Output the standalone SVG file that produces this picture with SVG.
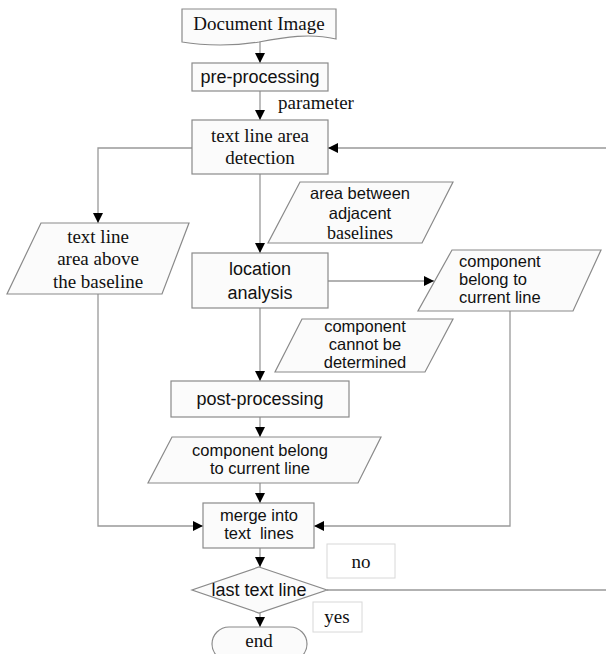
<svg xmlns="http://www.w3.org/2000/svg" width="606" height="654" viewBox="0 0 606 654">
<style>
.shape{fill:#fbfbfb;stroke:#8a8a8a;stroke-width:1.2}
.lbl{fill:#fff;stroke:#d8d8d8;stroke-width:1}
.conn{fill:none;stroke:#999;stroke-width:1.3}
.serif{font-family:"Liberation Serif","Times New Roman",serif;font-size:19px;fill:#111;text-anchor:middle}
.sans{font-family:"Liberation Sans",Arial,sans-serif;font-size:18px;fill:#111;text-anchor:middle}
.tight{font-size:16.5px}
.left{text-anchor:start}
</style>
<defs>
<marker id="ah" viewBox="0 0 10 10" refX="10" refY="5" markerWidth="10" markerHeight="10" markerUnits="userSpaceOnUse" orient="auto">
<path d="M0,0 L10,5 L0,10 Z" fill="#000"/>
</marker>
</defs>
<rect width="606" height="654" fill="#fff"/>
<g id="connectors">
<path class="conn" d="M260,42 V63" marker-end="url(#ah)"/>
<path class="conn" d="M260,91 V120" marker-end="url(#ah)"/>
<path class="conn" d="M606,148 H328" marker-end="url(#ah)"/>
<path class="conn" d="M192,148 H98 V223" marker-end="url(#ah)"/>
<path class="conn" d="M260,174 V253" marker-end="url(#ah)"/>
<path class="conn" d="M328,281 H434" marker-end="url(#ah)"/>
<path class="conn" d="M260,308 V381" marker-end="url(#ah)"/>
<path class="conn" d="M260,417 V437" marker-end="url(#ah)"/>
<path class="conn" d="M260,483 V503" marker-end="url(#ah)"/>
<path class="conn" d="M98,294 V526 H203" marker-end="url(#ah)"/>
<path class="conn" d="M510,311 V526 H314" marker-end="url(#ah)"/>
<path class="conn" d="M260,548 V567" marker-end="url(#ah)"/>
<path class="conn" d="M260,613 V627" marker-end="url(#ah)"/>
<path class="conn" d="M327,590 H606"/>
</g>
<g id="document-image">
<path class="shape" d="M182,9 H336 V39 C310,33 285,37 259,42 C235,46 205,46 182,42 Z"/>
<text class="serif" x="259" y="30">Document Image</text>
</g>
<g id="pre-processing">
<rect class="shape" x="192" y="63" width="136" height="28"/>
<text class="sans" x="260" y="83">pre-processing</text>
</g>
<g id="parameter">
<text class="serif left" x="278" y="109">parameter</text>
</g>
<g id="text-line-area-detection">
<rect class="shape" x="192" y="120" width="136" height="54"/>
<text class="serif" x="260" y="142">text line area</text>
<text class="serif" x="260" y="164">detection</text>
</g>
<g id="text-line-area-above">
<path class="shape" d="M41,223 H189 L162,294 H7 Z"/>
<text class="serif" x="98" y="243">text line</text>
<text class="serif" x="98" y="265">area above</text>
<text class="serif" x="98" y="288">the baseline</text>
</g>
<g id="area-between">
<path class="shape" d="M300,182 H453 L422,243 H268 Z"/>
<text class="sans tight" x="360" y="199">area between</text>
<text class="sans tight" x="360" y="219">adjacent</text>
<text class="serif" x="360" y="239" style="font-size:18px">baselines</text>
</g>
<g id="location-analysis">
<rect class="shape" x="192" y="253" width="136" height="55"/>
<text class="sans" x="260" y="275">location</text>
<text class="sans" x="260" y="299">analysis</text>
</g>
<g id="component-belong-right">
<path class="shape" d="M452,250 H601 L573,311 H418 Z"/>
<text class="sans tight left" x="459" y="267">component</text>
<text class="sans tight left" x="459" y="285">belong to</text>
<text class="sans tight left" x="459" y="303">current line</text>
</g>
<g id="component-cannot">
<path class="shape" d="M302,319 H453 L425,372 H275 Z"/>
<text class="sans tight" x="365" y="332">component</text>
<text class="sans tight" x="365" y="350">cannot be</text>
<text class="sans tight" x="365" y="368">determined</text>
</g>
<g id="post-processing">
<rect class="shape" x="171" y="381" width="178" height="36"/>
<text class="sans" x="260" y="405">post-processing</text>
</g>
<g id="component-belong-lower">
<path class="shape" d="M172,437 H381 L358,483 H148 Z"/>
<text class="sans tight" x="260" y="456">component belong</text>
<text class="sans tight" x="260" y="474">to current line</text>
</g>
<g id="merge-into-text-lines">
<rect class="shape" x="203" y="503" width="111" height="45"/>
<text class="sans tight" x="259" y="521">merge into</text>
<text class="sans tight" x="259" y="539" xml:space="preserve">text  lines</text>
</g>
<g id="no-label">
<rect class="lbl" x="327" y="544" width="68" height="34"/>
<text class="serif" x="361" y="568">no</text>
</g>
<g id="last-text-line">
<path class="shape" d="M259,567 L327,590 L259,613 L192,590 Z"/>
<text class="sans" x="259" y="596">last text line</text>
</g>
<g id="yes-label">
<rect class="lbl" x="313" y="602" width="49" height="30"/>
<text class="serif" x="337" y="623">yes</text>
</g>
<g id="end">
<rect class="shape" x="212" y="627" width="95" height="34" rx="17"/>
<text class="serif" x="259" y="647">end</text>
</g>
</svg>
